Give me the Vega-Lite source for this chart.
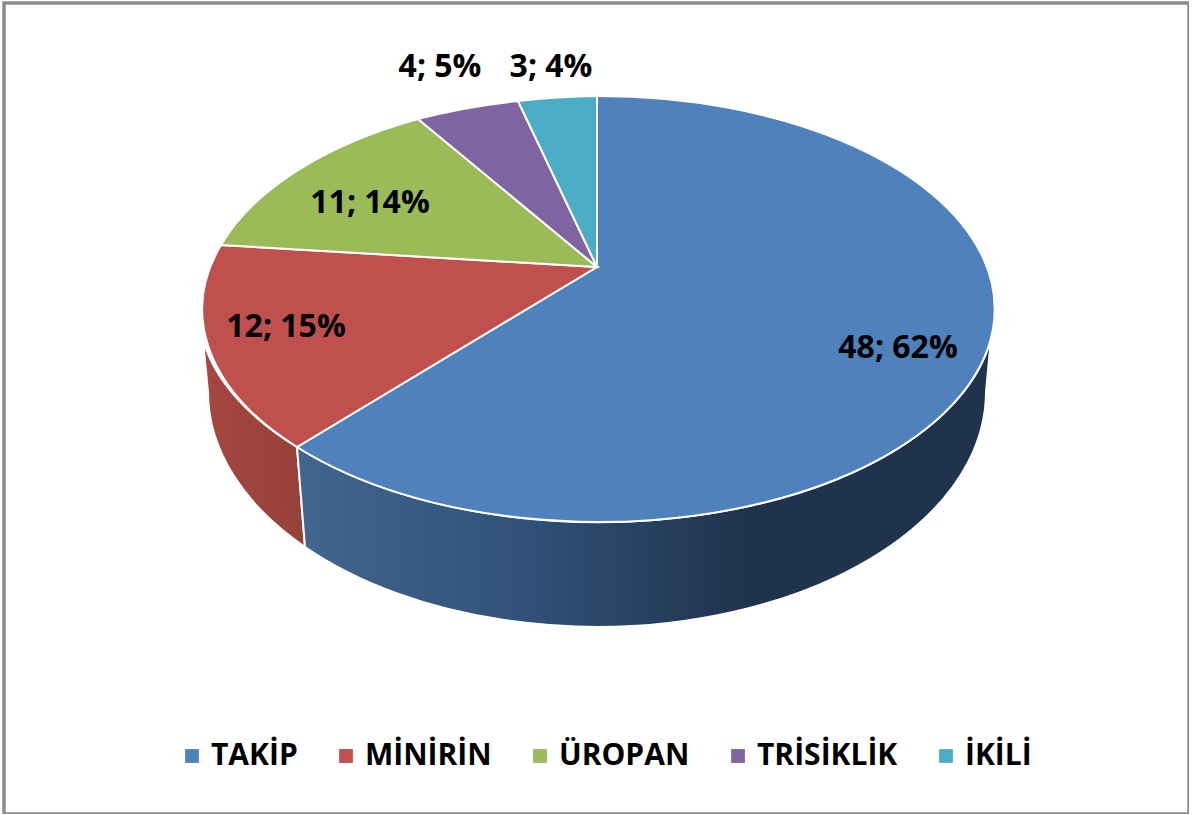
{
"$schema":"https://vega.github.io/schema/vega-lite/v6.json",
"width":1185,"height":811,"autosize":{"type":"none"},
"padding":{"left":4,"top":3,"right":0,"bottom":0},
"background":"white",
"view":{"stroke":"#8c8c8c","strokeWidth":3.5,"fill":"white"},
"data":{"values":[
{"category":"TAKİP","value":48,"label":"48; 62%"},
{"category":"MİNİRİN","value":12,"label":"12; 15%"},
{"category":"ÜROPAN","value":11,"label":"11; 14%"},
{"category":"TRİSİKLİK","value":4,"label":"4; 5%"},
{"category":"İKİLİ","value":3,"label":"3; 4%"}
]},
"layer":[
{"transform":[{"filter":"datum.category==='MİNİRİN'"}],
 "mark":{"type":"point","filled":true,"opacity":1,"size":4,"strokeWidth":2,"stroke":"white",
 "shape":"M-299.5,38.5 A392,211 0 0 1 -393.5,-68.5 L-388.5,-16.5 A389,235 0 0 0 -291.5,138.5 Z",
 "fill":{"x1":0,"y1":0,"x2":1,"y2":0,"gradient":"linear","stops":[{"offset":0,"color":"#a5473f"},{"offset":1,"color":"#96413b"}]}}},
{"transform":[{"filter":"datum.category==='TAKİP'"}],
 "mark":{"type":"point","filled":true,"opacity":1,"size":4,"strokeWidth":2,"stroke":"white",
 "shape":"M394.5,-70.5 A396,213 0 0 1 -299.5,38.5 L-291.5,138.5 A389,235 0 0 0 389.5,-16.5 Z",
 "fill":{"x1":0,"y1":0,"x2":1,"y2":0,"gradient":"linear","stops":[{"offset":0,"color":"#42668f"},{"offset":0.35,"color":"#2f4f76"},{"offset":0.65,"color":"#1f334c"},{"offset":1,"color":"#1f334c"}]}}},
{"mark":{"type":"point","filled":true,"opacity":1,"size":4,"strokeWidth":2,"stroke":"white"},
 "encoding":{
  "color":{"field":"category","type":"nominal","sort":null,
   "scale":{"domain":["TAKİP","MİNİRİN","ÜROPAN","TRİSİKLİK","İKİLİ"],"range":["#4f81bd","#c0504d","#9bbb59","#8064a2","#4bacc6"]},
   "legend":{"title":null,"orient":"none","legendX":173,"legendY":738,"direction":"horizontal","columns":5,"symbolType":"square","symbolSize":190,"symbolStrokeWidth":0,"symbolOpacity":1,"labelFont":"Open Sans","labelFontWeight":"bold","labelFontSize":30,"labelColor":"black","labelOffset":4,"columnPadding":33,"labelLimit":400,
    "encode":{"symbols":{"update":{"shape":{"value":"square"},"size":{"value":190},"stroke":{"value":"transparent"}}}}}},
  "shape":{"field":"label","type":"nominal","legend":null,
   "scale":{"domain":["48; 62%","12; 15%","11; 14%","4; 5%","3; 4%"],"range":[
    "M0.5,-141.5 L0.5,-312.5 A396,213 0 1 1 -299.5,38.5 Z",
    "M0.5,-141.5 L-299.5,38.5 A392,211 0 0 1 -375.5,-163.5 Z",
    "M0.5,-141.5 L-375.5,-163.5 A396,213 0 0 1 -178.5,-289.5 Z",
    "M0.5,-141.5 L-178.5,-289.5 A396,213 0 0 1 -78.5,-307.5 Z",
    "M0.5,-141.5 L-78.5,-307.5 A396,213 0 0 1 0.5,-312.5 Z"]}}
 }},
{"transform":[{"filter":"datum.category==='TAKİP'"}],"mark":{"type":"text","dx":301.5,"dy":-60.5,"font":"Open Sans","fontWeight":"bold","fontSize":32,"color":"black"},"encoding":{"text":{"field":"label"}}},
{"transform":[{"filter":"datum.category==='MİNİRİN'"}],"mark":{"type":"text","dx":-310.5,"dy":-81.5,"font":"Open Sans","fontWeight":"bold","fontSize":32,"color":"black"},"encoding":{"text":{"field":"label"}}},
{"transform":[{"filter":"datum.category==='ÜROPAN'"}],"mark":{"type":"text","dx":-226.5,"dy":-205.5,"font":"Open Sans","fontWeight":"bold","fontSize":32,"color":"black"},"encoding":{"text":{"field":"label"}}},
{"transform":[{"filter":"datum.category==='TRİSİKLİK'"}],"mark":{"type":"text","dx":-156.5,"dy":-341.5,"font":"Open Sans","fontWeight":"bold","fontSize":32,"color":"black"},"encoding":{"text":{"field":"label"}}},
{"transform":[{"filter":"datum.category==='İKİLİ'"}],"mark":{"type":"text","dx":-45.5,"dy":-341.5,"font":"Open Sans","fontWeight":"bold","fontSize":32,"color":"black"},"encoding":{"text":{"field":"label"}}}
]
}
